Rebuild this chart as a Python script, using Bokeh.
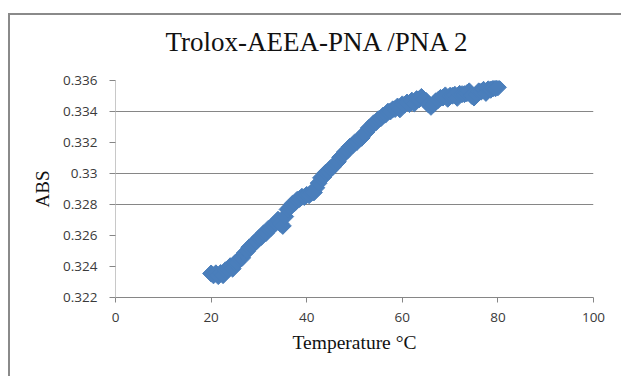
import numpy as np
from bokeh.plotting import figure
from bokeh.models import Range1d, FixedTicker, ColumnDataSource, InlineStyleSheet
from bokeh.embed import file_html
from bokeh.resources import INLINE

title_text = "Trolox-AEEA-PNA /PNA 2"
x_label = "Temperature °C"
y_label = "ABS"

x_ticks = [0, 20, 40, 60, 80, 100]
y_ticks = [0.322, 0.324, 0.326, 0.328, 0.33, 0.332, 0.334, 0.336]
y_tick_labels = ["0.322", "0.324", "0.326", "0.328", "0.33", "0.332", "0.334", "0.336"]
grid_visible = [0.328, 0.33, 0.334]

temperature = [
    20.0, 20.5, 21.0, 21.5, 22.0, 22.5, 23.0, 23.5, 24.0, 24.5,
    25.0, 25.5, 26.0, 26.5, 27.0, 27.5, 28.0, 28.5, 29.0, 29.5,
    30.0, 30.5, 31.0, 31.5, 32.0, 32.5, 33.0, 33.5, 34.0, 34.5,
    35.0, 35.5, 36.0, 36.5, 37.0, 37.5, 38.0, 38.5, 39.0, 39.5,
    40.0, 40.5, 41.0, 41.5, 42.0, 42.5, 43.0, 43.5, 44.0, 44.5,
    45.0, 45.5, 46.0, 46.5, 47.0, 47.5, 48.0, 48.5, 49.0, 49.5,
    50.0, 50.5, 51.0, 51.5, 52.0, 52.5, 53.0, 53.5, 54.0, 54.5,
    55.0, 55.5, 56.0, 56.5, 57.0, 57.5, 58.0, 58.5, 59.0, 59.5,
    60.0, 60.5, 61.0, 61.5, 62.0, 62.5, 63.0, 63.5, 64.0, 64.5,
    65.0, 65.5, 66.0, 66.5, 67.0, 67.5, 68.0, 68.5, 69.0, 69.5,
    70.0, 70.5, 71.0, 71.5, 72.0, 72.5, 73.0, 73.5, 74.0, 74.5,
    75.0, 75.5, 76.0, 76.5, 77.0, 77.5, 78.0, 78.5, 79.0, 79.5,
    80.0,
]
absorbance = [
    0.32355, 0.32343, 0.32356, 0.32338, 0.32358, 0.32344, 0.32376, 0.32382, 0.32402, 0.32386,
    0.32422, 0.32428, 0.32450, 0.32456, 0.32486, 0.32498, 0.32524, 0.32532, 0.32552, 0.32563,
    0.32584, 0.32590, 0.32614, 0.32616, 0.32644, 0.32648, 0.32666, 0.32680, 0.32702, 0.32676,
    0.32662, 0.32722, 0.32768, 0.32782, 0.32804, 0.32810, 0.32830, 0.32836, 0.32850, 0.32848,
    0.32862, 0.32860, 0.32876, 0.32878, 0.32908, 0.32938, 0.32972, 0.32978, 0.33006, 0.33013,
    0.33034, 0.33043, 0.33064, 0.33076, 0.33104, 0.33116, 0.33139, 0.33148, 0.33172, 0.33178,
    0.33199, 0.33203, 0.33222, 0.33230, 0.33256, 0.33268, 0.33294, 0.33303, 0.33324, 0.33330,
    0.33350, 0.33356, 0.33374, 0.33380, 0.33399, 0.33400, 0.33414, 0.33416, 0.33432, 0.33414,
    0.33446, 0.33444, 0.33458, 0.33448, 0.33470, 0.33452, 0.33480, 0.33478, 0.33494, 0.33478,
    0.33468, 0.33445, 0.33430, 0.33446, 0.33466, 0.33474, 0.33488, 0.33490, 0.33504, 0.33482,
    0.33502, 0.33502, 0.33508, 0.33488, 0.33514, 0.33512, 0.33512, 0.33518, 0.33530, 0.33502,
    0.33490, 0.33510, 0.33530, 0.33528, 0.33540, 0.33520, 0.33544, 0.33540, 0.33550, 0.33550,
    0.33556,
]

source = ColumnDataSource(data=dict(t=temperature, a=absorbance))

p = figure(
    width=621, height=376,
    x_range=Range1d(0, 100), y_range=Range1d(0.322, 0.336),
    output_backend="svg", toolbar_location=None,
    min_border_left=115, min_border_right=28,
    min_border_top=79, min_border_bottom=79,
)
p.background_fill_color = "white"
p.border_fill_color = "white"
p.outline_line_color = None

# outer chart-area border (left and top edges visible in the reference)
p.stylesheets = [InlineStyleSheet(css="""
:host { position: relative; }
:host::after {
  content: "";
  position: absolute;
  left: 8px; top: 13px; right: 0px; bottom: 0px;
  border-left: 2px solid #8a8a8a;
  border-top: 2px solid #8a8a8a;
  pointer-events: none;
  z-index: 10;
}
""")]

# title
p.title.text = title_text
p.title.align = "left"
p.title.offset = 50
p.title.standoff = 48
p.title.text_font = "Liberation Serif"
p.title.text_font_size = "27px"
p.title.text_font_style = "normal"
p.title.text_color = "#111111"

# x axis
xa = p.xaxis[0]
xa.ticker = FixedTicker(ticks=x_ticks)
xa.axis_label = x_label
xa.axis_label_text_font = "Liberation Serif"
xa.axis_label_text_font_size = "19.5px"
xa.axis_label_text_font_style = "normal"
xa.axis_label_text_color = "#111111"
xa.axis_label_standoff = 7
xa.major_label_text_font = "Open Sans"
xa.major_label_text_font_size = "13.5px"
xa.major_label_text_color = "#3a3a3a"
xa.major_label_standoff = 10
xa.axis_line_color = "#868686"
xa.major_tick_line_color = "#868686"
xa.major_tick_out = 5
xa.major_tick_in = 0
xa.minor_tick_line_color = None

# y axis
ya = p.yaxis[0]
ya.ticker = FixedTicker(ticks=y_ticks)
ya.major_label_overrides = {v: s for v, s in zip(y_ticks, y_tick_labels)}
ya.axis_label = y_label
ya.axis_label_text_font = "Liberation Serif"
ya.axis_label_text_font_size = "19px"
ya.axis_label_text_font_style = "normal"
ya.axis_label_text_color = "#111111"
ya.axis_label_standoff = 7
ya.major_label_text_font = "Open Sans"
ya.major_label_text_font_size = "13.5px"
ya.major_label_text_color = "#3a3a3a"
ya.major_label_standoff = 12
ya.axis_line_color = "#c8c8c8"
ya.major_tick_line_color = "#868686"
ya.major_tick_out = 6
ya.major_tick_in = 0
ya.minor_tick_line_color = None

p.xgrid.grid_line_color = None
p.ygrid.ticker = FixedTicker(ticks=grid_visible)
p.ygrid.grid_line_color = "#868686"
p.ygrid.grid_line_width = 1

p.scatter("t", "a", source=source, marker="square", size=12, angle=np.pi / 4,
          fill_color="#4a7ebb", line_color="#4a7ebb", line_width=1)

open("out.html", "w").write(file_html(p, INLINE))
